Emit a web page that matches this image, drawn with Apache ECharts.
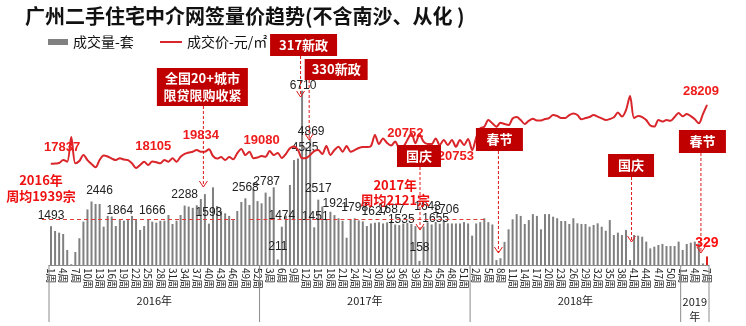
<!DOCTYPE html>
<html><head><meta charset="utf-8">
<script src="https://cdn.jsdelivr.net/npm/echarts@6/dist/echarts.min.js"></script>
<style>html,body{margin:0;padding:0;background:#fff}#c{width:746px;height:326px}</style>
</head><body><div id="c"></div>
<script>
// ---- data ----
const weeksPerYear = [52, 52, 52, 7];
const yearNames = ['2016年', '2017年', '2018年', '2019\n年'];
const categories = [];
weeksPerYear.forEach(n => { for (let w = 1; w <= n; w++) categories.push(w + '周'); });

const volume2016 = [1493,1310,1245,1195,580,30,500,1030,1670,2140,
  2446,2350,2350,1475,1890,1864,1500,1730,1705,1730,
  1890,1730,1350,1500,1760,1666,1630,1705,1705,1925,
  1580,1705,1925,2288,2250,2200,2300,2540,2730,1593,
  2990,2270,2080,1990,1890,1730,2080,2425,2568,2310,
  2915,2460];
const volume2017 = [2375,2787,2630,2990,211,1474,1900,3080,4040,4100,
  6710,4525,4869,1451,2517,2250,1750,2050,1921,1800,
  1700,1050,1750,1798,1720,1680,1500,1600,1627,1650,
  1600,1640,1687,1560,1535,1600,1620,1580,1500,158,
  1480,1643,1560,1655,1590,1706,1605,1600,1600,1600,
  1650,1600];
const volume2018 = [1130,1600,1650,1800,1650,1560,190,260,890,1375,
  1760,1960,1890,1580,1730,1960,1890,1375,1960,1960,
  1860,1800,1695,1695,1580,1800,1605,1580,1580,1475,
  1540,1605,1475,1320,1730,1155,1245,1155,1350,190,
  1155,1130,1090,900,640,705,770,810,730,730,
  730,900];
const volume2019 = [580,810,860,900,835,60,329];

const price2016 = [17700,17750,17837,18370,18070,22500,17780,18190,19270,18370,
  17660,17070,18370,19180,19000,18640,18370,18680,18460,18370,
  17780,16940,17480,18070,17480,18105,17990,17780,18370,18070,
  18680,18070,18960,19480,19710,19860,20160,19834,19860,20290,
  19090,18640,18910,18370,18910,18500,19620,20340,19270,19860,
  18680,18820];
const price2017 = [19080,18960,19980,19270,19620,18730,19450,20465,20790,20160,
  18680,18730,19270,19980,20160,19450,20870,19270,20160,20750,
  19860,20870,19860,20160,20520,20700,20700,20870,22840,21230,
  22220,21410,20960,21680,20610,20752,21950,23150,21360,23000,
  21650,21230,21230,22220,21055,21950,21055,21950,20753,21950,
  21055,22130];
const price2018 = [20160,22360,24040,24330,25525,24935,24330,25040,24810,24630,
  25790,26060,25525,24810,25400,25740,25430,25430,25700,25880,
  26420,26240,25880,25880,26420,26690,26420,25650,25880,26060,
  26420,26150,25830,25525,25700,26010,26870,26150,27310,29820,
  25880,26240,26060,25525,24540,24360,25525,25260,25525,25400,
  26060,26780];
const price2019 = [26190,26600,26240,25650,24935,26600,28209];

const volume = volume2016.concat(volume2017, volume2018, volume2019);
const price = price2016.concat(price2017, price2018, price2019);

// which points carry a value label
const volumeLabelIdx = [0,10,15,25,33,39,48,53,56,57,62,63,64,65,66,70,75,80,84,86,91,93,95,97,162];
const priceLabelIdx = [2,25,37,52,87,100,162];

// ---- presentation ----
const RED = '#D9262B';
const BOX = '#C00000';
const CJK = '"Noto Sans CJK SC", sans-serif';
const NUM = '"Liberation Sans", Arial, sans-serif';
const volLabelOffset = {10:[8,0],15:[8,5],53:[1,0],56:[0,-2],62:[1,6],63:[-1,11],64:[1,4],65:[1,0],70:[1.5,0],86:[2,6],91:[0,-2],93:[0,-5],95:[0,8],97:[2,0]};
const priceLabelStyle = {2:['top',3,9],25:['top',1,8],37:['top',0,9],52:['top',0,9],87:['top',2,6],100:['bottom',0,3],162:['top',-6,7]};

const barData = volume.map((v, i) => {
  const last = i === volume.length - 1;
  const item = { value: v };
  if (last) item.itemStyle = { color: '#E0201F' };
  if (volumeLabelIdx.includes(i)) {
    item.label = last
      ? { show: true, position: 'top', distance: 6, color: '#FF1010', fontSize: 14, fontWeight: 'bold', fontFamily: NUM }
      : { show: true, position: 'top', distance: 5, offset: volLabelOffset[i] || [0, 0], color: '#222', fontSize: 12, fontFamily: NUM };
  }
  return item;
});
const lineData = price.map((v, i) => {
  const item = { value: v };
  if (priceLabelIdx.includes(i)) {
    const s = priceLabelStyle[i];
    item.label = { show: true, position: s[0], offset: [s[1], 0], distance: s[2], color: '#EE1C1C', fontSize: 13, fontWeight: 'bold', fontFamily: NUM };
  }
  return item;
});

const chart = echarts.init(document.getElementById('c'), null, { renderer: 'canvas' });
const option = {
  animation: false,
  backgroundColor: '#fff',
  title: {
    text: '广州二手住宅中介网签量价趋势(不含南沙、从化 )',
    left: 25, top: 6, padding: 0,
    textStyle: { fontSize: 20, fontWeight: 'bold', color: '#111', fontFamily: CJK }
  },
  legend: [
    { data: [{ name: '成交量-套', icon: 'rect' }], left: 48, top: 35, itemWidth: 20, itemHeight: 6, padding: 0,
      textStyle: { fontSize: 14, color: '#111', fontFamily: CJK } },
    { data: [{ name: '成交价-元/㎡', icon: 'rect' }], left: 160, top: 35, itemWidth: 22, itemHeight: 2, padding: 0,
      textStyle: { fontSize: 14, color: '#111', fontFamily: CJK } }
  ],
  grid: { left: 49, right: 37, top: 65, bottom: 61, containLabel: false },
  xAxis: {
    type: 'category', data: categories, boundaryGap: true,
    axisLine: { lineStyle: { color: '#8C8C8C', width: 1 } },
    axisTick: { show: false },
    axisLabel: { interval: 2, rotate: -90, fontSize: 10, margin: 3, color: '#222', fontFamily: CJK, hideOverlap: false }
  },
  yAxis: [
    { type: 'value', min: 0, max: 7700, show: false, splitLine: { show: false } },
    { type: 'value', min: -400, max: 35370, show: false, splitLine: { show: false } }
  ],
  series: [
    { name: '成交量-套', type: 'bar', data: barData, barWidth: 2, itemStyle: { color: '#808080' }, z: 2 },
    { name: '成交价-元/㎡', type: 'line', yAxisIndex: 1, data: lineData, smooth: 0.3,
      showSymbol: true, showAllSymbol: true, symbol: 'circle', symbolSize: 1,
      itemStyle: { color: RED }, lineStyle: { color: RED, width: 2 }, z: 3 }
  ]
};
chart.setOption(option);

// ---- annotations anchored to category positions ----
const notes = [
  { text: '317新政', idx: 62, dx: -1.5, bx: 3, top: 34, w: 67, h: 22, tip: 97 },
  { text: '330新政', idx: 64, dx: -1, bx: 27, top: 59, w: 63, h: 21, tip: 140 },
  { text: '全国20+城市\n限贷限购收紧', idx: 38, dx: -1.5, bx: -1, top: 68, w: 91, h: 38, tip: 187 },
  { text: '国庆', idx: 91, dx: 0.5, bx: -1, top: 145, w: 44, h: 22, tip: 230 },
  { text: '春节', idx: 110, dx: 2, bx: 1, top: 128, w: 47, h: 23, tip: 253 },
  { text: '国庆', idx: 143, dx: 1.5, bx: -0.5, top: 154, w: 46, h: 23, tip: 242 },
  { text: '春节', idx: 161, dx: -2, bx: 1.5, top: 130, w: 47, h: 23, tip: 253 }
];
const px = i => chart.convertToPixel({ xAxisIndex: 0 }, i);
const step = px(1) - px(0);
const edge = k => px(0) - step / 2 + k * step;
const g = [];
notes.forEach(n => {
  const ax = px(n.idx) + n.dx;
  const cx = ax + n.bx;
  g.push({ type: 'line', z: 50, shape: { x1: ax, y1: n.top + n.h, x2: ax, y2: n.tip },
    style: { stroke: '#E01818', lineWidth: 1, lineDash: [3, 2] } });
  g.push({ type: 'polyline', z: 50, shape: { points: [[ax - 4, n.tip - 6], [ax, n.tip], [ax + 4, n.tip - 6]] },
    style: { stroke: '#E01818', lineWidth: 1, fill: null } });
  g.push({ type: 'rect', z: 60, shape: { x: cx - n.w / 2, y: n.top, width: n.w, height: n.h }, style: { fill: BOX } });
  g.push({ type: 'text', z: 61, x: cx, y: n.top + n.h / 2,
    style: { text: n.text, fill: '#fff', font: 'bold 13px ' + CJK, textAlign: 'center', textVerticalAlign: 'middle', lineHeight: 17 } });
});
// yearly average dashed lines
[[edge(0) - 7, edge(45) + 4], [edge(49.5), edge(108)]].forEach(s => {
  g.push({ type: 'line', z: 40, shape: { x1: s[0], y1: 219.5, x2: s[1], y2: 219.5 },
    style: { stroke: '#E23B3B', lineWidth: 1.2, lineDash: [4, 3] } });
});
// yearly average texts
[[41, '2016年', '周均1939宗'], [395, '2017年', '周均2121宗']].forEach((t, k) => {
  const x = k === 0 ? edge(0) - 8 : px(86) - 4;
  g.push({ type: 'text', z: 45, x: x, y: k === 0 ? 180 : 185,
    style: { text: t[1], fill: '#EE1010', font: 'bold 13px ' + CJK, textAlign: 'center', textVerticalAlign: 'middle' } });
  g.push({ type: 'text', z: 45, x: x, y: k === 0 ? 196 : 200,
    style: { text: t[2], fill: '#EE1010', font: 'bold 13px ' + CJK, textAlign: 'center', textVerticalAlign: 'middle' } });
});
// year groups on the axis
let start = 0;
const bounds = [0];
weeksPerYear.forEach(n => { start += n; bounds.push(start); });
bounds.forEach(b => {
  g.push({ type: 'line', z: 5, shape: { x1: edge(b), y1: 265, x2: edge(b), y2: 322 }, style: { stroke: '#8C8C8C', lineWidth: 1 } });
});
yearNames.forEach((name, k) => {
  const mid = (edge(bounds[k]) + edge(bounds[k + 1])) / 2;
  g.push({ type: 'text', z: 5, x: mid, y: k === 3 ? 309 : 301,
    style: { text: name, fill: '#222', font: '11px ' + CJK, textAlign: 'center', textVerticalAlign: 'middle', lineHeight: 15 } });
});
chart.setOption({ graphic: g });
</script>
</body></html>
